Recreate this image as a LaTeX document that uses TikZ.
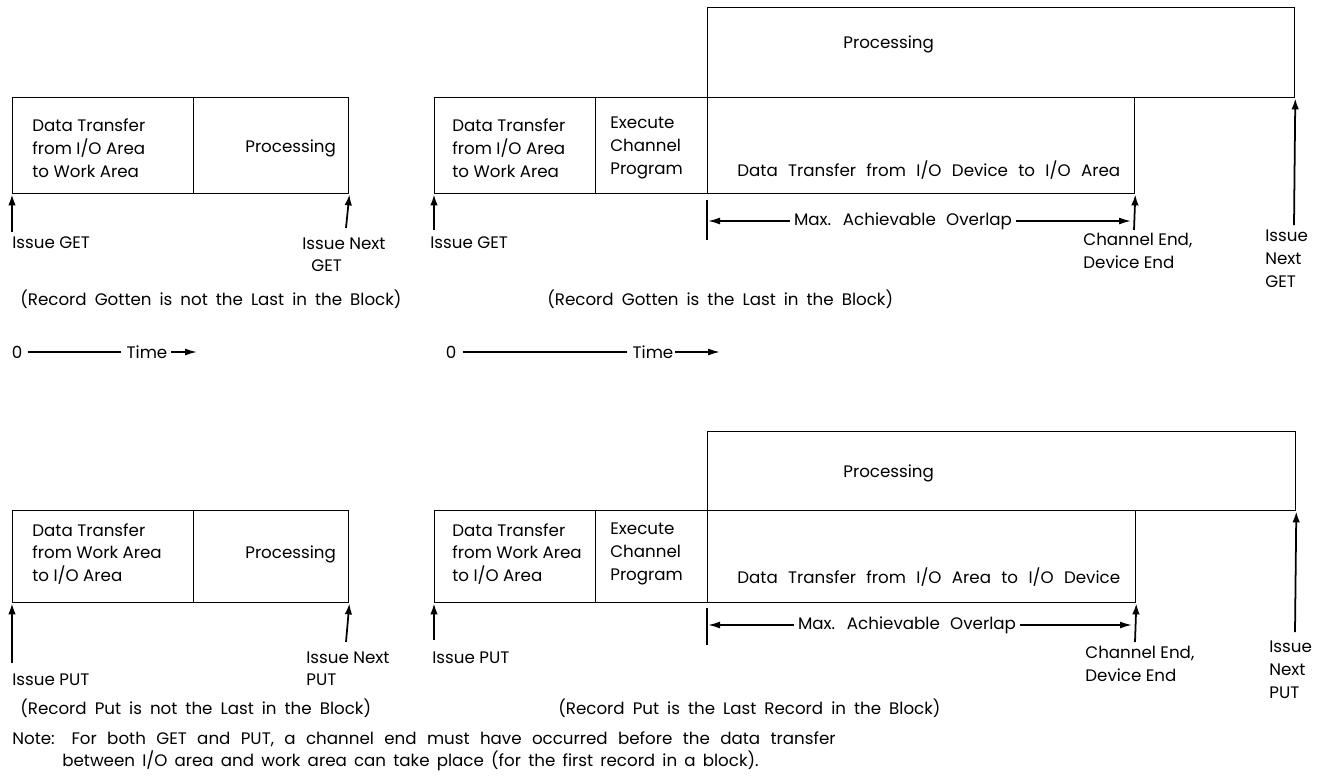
\documentclass[tikz,border=0pt]{standalone}
\usepackage{fontspec}
\setmainfont{Poppins}
\usetikzlibrary{positioning,arrows.meta}
\tikzset{
	cell/.style={draw, line width=0.8pt, anchor=north west, inner sep=0pt},
	txt/.style={font=\fontsize{9.5}{13}\selectfont, inner sep=0pt, align=left},
	wide/.style={execute at begin node={\spaceskip=0.62em plus 0.1em\relax}},
	capt/.style={execute at begin node={\spaceskip=0.48em plus 0.1em\relax}},
	up/.style={-{Latex[length=2.2mm,width=1.5mm]}, line width=1pt},
	span/.style={-{Latex[length=2.4mm,width=1.4mm]}, line width=0.9pt},
	tick/.style={line width=0.8pt}
}

\begin{document}
\begin{tikzpicture}[x=0.02cm, y=-0.02cm]
	\useasboundingbox (0,0) rectangle (1325,782);

	% GET, record not last in block
	\node[cell, minimum width=3.62cm, minimum height=1.92cm] (dtA) at (12,97) {};
	\node[cell, minimum width=3.10cm, minimum height=1.92cm] (prA) at (193,97) {};
	\node[txt, anchor=west] (dtAt) at (32,148) {Data Transfer\\from I/O Area\\to Work Area};
	\node[txt, anchor=west] (prAt) at (245,148) {Processing};
	\node[txt, anchor=west] (igA) at (12,243) {Issue GET};
	\node[txt, anchor=north west] (ingA) at (302,237) {Issue Next\\\hspace*{1.8mm}GET};
	\coordinate (igAc) at (12,232);
	\coordinate (ingAc) at (346,228);
	\draw[up] (igAc) -- (dtA.south west);
	\draw[up] (ingAc) -- (prA.south east);
	\node[txt, capt, anchor=west] (capA) at (20,299) {(Record Gotten is not the Last in the Block)};

	% GET, record last in block
	\node[cell, minimum width=11.74cm, minimum height=1.80cm] (prB) at (707,7) {};
	\node[cell, minimum width=3.22cm, minimum height=1.92cm] (dtB) at (434,97) {};
	\node[cell, minimum width=2.24cm, minimum height=1.92cm] (ecB) at (595,97) {};
	\node[cell, minimum width=8.54cm, minimum height=1.92cm] (ddB) at (707,97) {};
	\node[txt, anchor=west] (prBt) at (843,44) {Processing};
	\node[txt, anchor=west] (dtBt) at (452,148) {Data Transfer\\from I/O Area\\to Work Area};
	\node[txt, anchor=west] (ecBt) at (610,148) {Execute\\Channel\\Program};
	\node[txt, wide, anchor=west] (ddBt) at (737,170) {Data Transfer from I/O Device to I/O Area};
	\node[txt, anchor=west] (igB) at (430,243) {Issue GET};
	\coordinate (igBc) at (434,230);
	\draw[up] (igBc) -- (dtB.south west);
	\coordinate (tkBa) at (707,200);
	\coordinate (tkBb) at (707,240);
	\draw[tick] (tkBa) -- (tkBb);
	\node[txt, wide] (ovB) at (903,221) {Max. Achievable Overlap};
	\coordinate (ovBl) at (708,221);
	\coordinate (ovBr) at (1131,221);
	\draw[span] (ovB.west) ++(-4,0) -- (ovBl);
	\draw[span] (ovB.east) ++(4,0) -- (ovBr);
	\coordinate (ceBc) at (1134,230);
	\draw[up] (ceBc) -- (ddB.south east);
	\node[txt, anchor=north west] (ceB) at (1083,233) {Channel End,\\Device End};
	\coordinate (ingBc) at (1294,225);
	\draw[up] (ingBc) -- (prB.south east);
	\node[txt, anchor=north west] (ingB) at (1265,230) {Issue\\Next\\GET};
	\node[txt, capt, anchor=west] (capB) at (547,299) {(Record Gotten is the Last in the Block)};

	% time axes
	\node[txt] (zA) at (17,352) {0};
	\node[txt] (tA) at (147,352) {Time};
	\coordinate (tAe) at (197,352);
	\draw[tick] (zA.east) ++(5,0) -- ([xshift=-3pt]tA.west);
	\draw[span] ([xshift=2pt]tA.east) -- (tAe);
	\node[txt] (zB) at (451,352) {0};
	\node[txt] (tB) at (653,352) {Time};
	\coordinate (tBe) at (720,352);
	\draw[tick] (zB.east) ++(6,0) -- ([xshift=-3pt]tB.west);
	\draw[span] ([xshift=1pt]tB.east) -- (tBe);

	% PUT, record not last in block
	\node[cell, minimum width=3.62cm, minimum height=1.84cm] (dtC) at (12,510) {};
	\node[cell, minimum width=3.10cm, minimum height=1.84cm] (prC) at (193,510) {};
	\node[txt, anchor=west] (dtCt) at (32,554) {Data Transfer\\from Work Area\\to I/O Area};
	\node[txt, anchor=west] (prCt) at (245,554) {Processing};
	\coordinate (ipCc) at (12,663);
	\coordinate (inpCc) at (346,642);
	\draw[up] (ipCc) -- (dtC.south west);
	\draw[up] (inpCc) -- (prC.south east);
	\node[txt, anchor=west] (ipC) at (12,680) {Issue PUT};
	\node[txt, anchor=north west] (inpC) at (306,651) {Issue Next\\PUT};
	\node[txt, capt, anchor=west] (capC) at (20,708) {(Record Put is not the Last in the Block)};

	% PUT, record last in block
	\node[cell, minimum width=11.76cm, minimum height=1.58cm] (prD) at (707,431) {};
	\node[cell, minimum width=3.22cm, minimum height=1.84cm] (dtD) at (434,510) {};
	\node[cell, minimum width=2.24cm, minimum height=1.84cm] (ecD) at (595,510) {};
	\node[cell, minimum width=8.56cm, minimum height=1.84cm] (ddD) at (707,510) {};
	\node[txt, anchor=west] (prDt) at (843,473) {Processing};
	\node[txt, anchor=west] (dtDt) at (452,554) {Data Transfer\\from Work Area\\to I/O Area};
	\node[txt, anchor=west] (ecDt) at (610,554) {Execute\\Channel\\Program};
	\node[txt, wide, anchor=west] (ddDt) at (737,577) {Data Transfer from I/O Area to I/O Device};
	\coordinate (ipDc) at (434,640);
	\draw[up] (ipDc) -- (dtD.south west);
	\node[txt, anchor=west] (ipD) at (432,658) {Issue PUT};
	\coordinate (tkDa) at (707,608);
	\coordinate (tkDb) at (707,645);
	\draw[tick] (tkDa) -- (tkDb);
	\node[txt, wide] (ovD) at (907,625) {Max. Achievable Overlap};
	\coordinate (ovDl) at (708,625);
	\coordinate (ovDr) at (1132,625);
	\draw[span] (ovD.west) ++(-4,0) -- (ovDl);
	\draw[span] (ovD.east) ++(4,0) -- (ovDr);
	\coordinate (ceDc) at (1135,642);
	\draw[up] (ceDc) -- (ddD.south east);
	\node[txt, anchor=north west] (ceD) at (1085,646) {Channel End,\\Device End};
	\coordinate (inpDc) at (1295,632);
	\draw[up] (inpDc) -- (prD.south east);
	\node[txt, anchor=north west] (inpD) at (1269,641) {Issue\\Next\\PUT};
	\node[txt, capt, anchor=west] (capD) at (558,708) {(Record Put is the Last Record in the Block)};

	% note
	\node[txt, anchor=north west] (note) at (12,731) {\spaceskip=0.62em\relax Note:\hspace{1mm} For both GET and PUT, a channel end must have occurred before the data transfer\\\spaceskip=0.43em\relax\hspace*{10mm}between I/O area and work area can take place (for the first record in a block).};
\end{tikzpicture}
\end{document}
